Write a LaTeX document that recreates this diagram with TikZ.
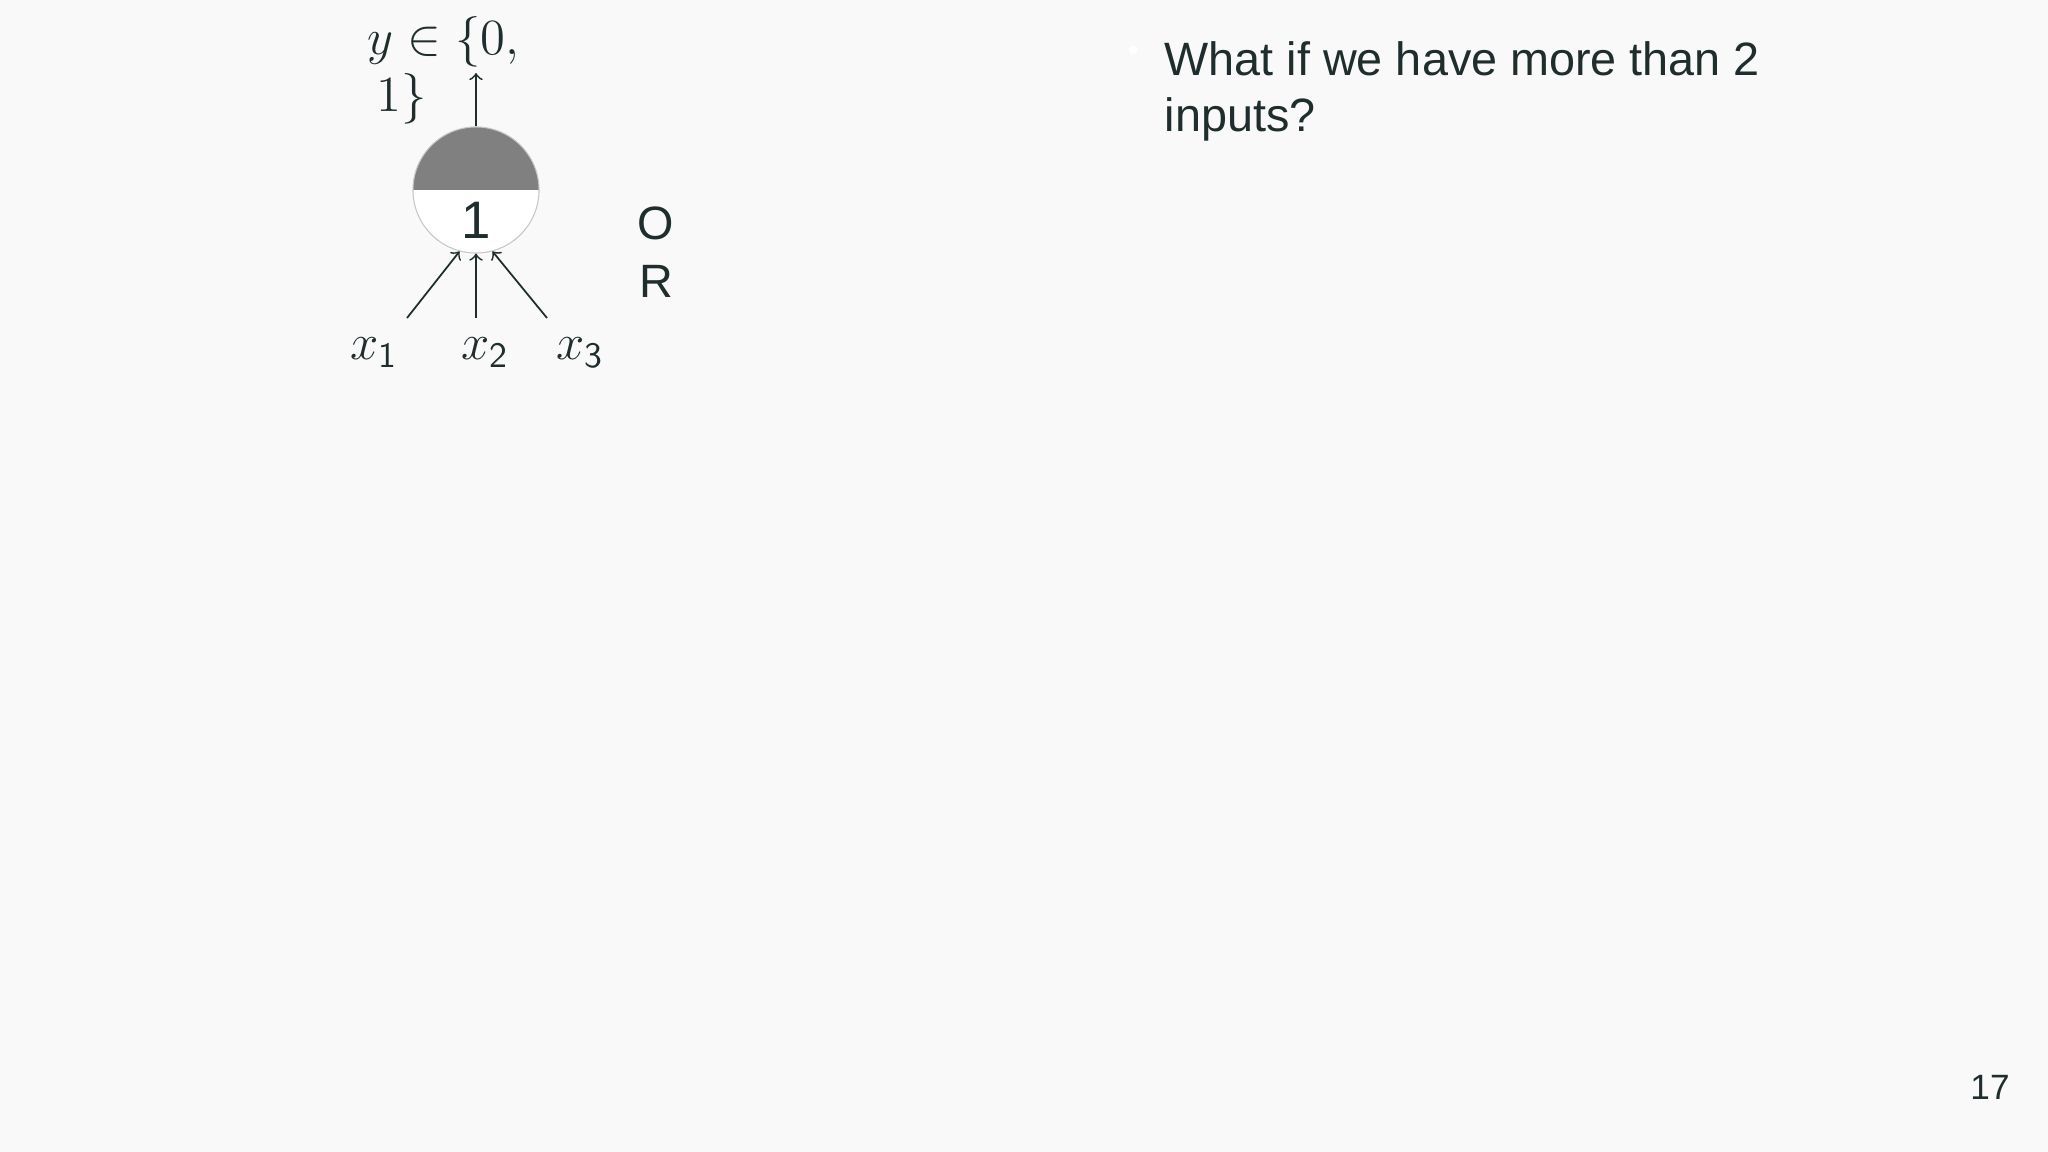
\documentclass[tikz,border=0pt]{standalone}
\usepackage{amsmath}
\usepackage{amssymb}
\usepackage{fontspec}
\setmainfont{Liberation Sans}
\usetikzlibrary{arrows,positioning}

\definecolor{slidebg}{HTML}{F9F9F9}
\definecolor{ink}{HTML}{1F2D2D}
\definecolor{halfgray}{HTML}{808080}

\tikzset{
  unitcircle/.style={circle, draw=gray!45, line width=0.3pt, fill=white,
    minimum size=1.26cm, inner sep=0pt,
    path picture={\fill[halfgray] (path picture bounding box.north west)
      rectangle (path picture bounding box.east);}},
  mathlabel/.style={text=ink, inner sep=0pt, font=\fontsize{14.5}{17}\selectfont},
  conn/.style={->, >=to, ink, line width=0.5pt}
}

\begin{document}
\begin{tikzpicture}[x=0.01cm, y=-0.01cm]
    \fill[slidebg] (0,0) rectangle (2048,1152);
    \useasboundingbox (0,0) rectangle (2048,1152);

    \node[unitcircle] (unit) at (476,190) {};
    \node[text=ink, inner sep=0pt, font=\fontsize{15}{18}\selectfont, anchor=base] (thresh) at (476,239) {1};
    \node[text=ink, inner sep=0pt, align=center, font=\fontsize{13.3}{16.5}\selectfont, anchor=base] (gate) at (656,298) {O\\R};

    \coordinate (yout) at (476,73);
    \coordinate (in1) at (407,318);
    \coordinate (in2) at (476,318);
    \coordinate (in3) at (547,318);

    \node[text=ink, inner sep=0pt, align=left, font=\fontsize{14.5}{16.3}\selectfont, anchor=base west] (ylabel) at (367,112) {$y \in \{0,$\\\,$1\}$};
    \node[mathlabel, anchor=base] (x1) at (374,360) {$x_{\mathsf{1}}$};
    \node[mathlabel, anchor=base] (x2) at (485,360) {$x_{\mathsf{2}}$};
    \node[mathlabel, anchor=base] (x3) at (580,360) {$x_{\mathsf{3}}$};

    \path[conn]
    (unit) edge (yout)
    (in1) edge (unit.255)
    (in2) edge (unit)
    (in3) edge (unit.285)
    ;

    \node[circle, fill=white, inner sep=0pt, minimum size=0.09cm] (bullet) at (1133,50) {};
    \node[text=ink, inner sep=0pt, align=left, anchor=base west, font=\fontsize{13.3}{16.2}\selectfont] (question) at (1164,132) {What if we have more than 2\\inputs?};
    \node[text=ink, inner sep=0pt, anchor=base, font=\fontsize{10}{12}\selectfont] (pagenum) at (1990,1099) {17};
\end{tikzpicture}
\end{document}
